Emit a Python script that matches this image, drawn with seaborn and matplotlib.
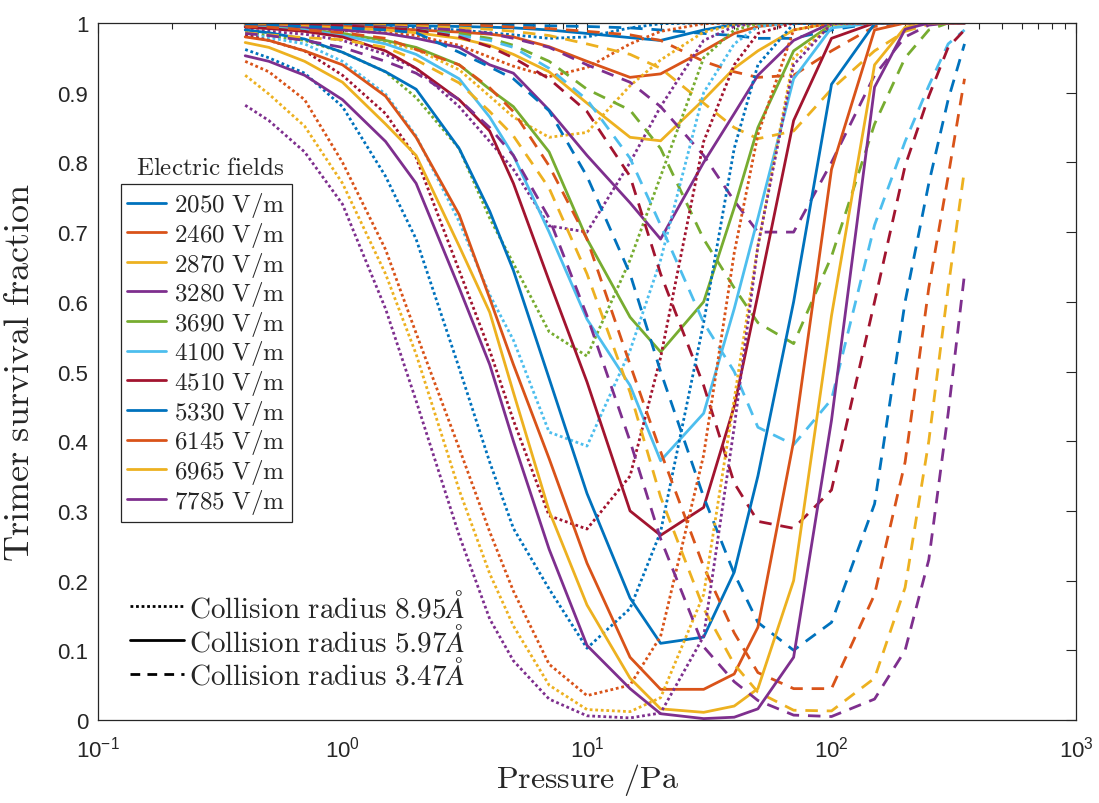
import matplotlib
matplotlib.use("Agg")
import matplotlib.pyplot as plt
import pandas as pd
import seaborn as sns
from matplotlib.lines import Line2D
from matplotlib.ticker import LogLocator, NullFormatter, FixedLocator, FuncFormatter

# Pressure grid of the simulations (Pa)
pressure = [0.4, 0.5, 0.7, 1, 1.5, 2, 3, 4, 5, 7, 10, 15, 20, 30, 40, 50,
            70, 100, 150, 200, 250, 300, 350]

fields = ["2050", "2460", "2870", "3280", "3690", "4100", "4510",
          "5330", "6145", "6965", "7785"]

colors = ["#0072BD", "#D95319", "#EDB120", "#7E2F8E", "#77AC30", "#4DBEEE",
          "#A2142F", "#0072BD", "#D95319", "#EDB120", "#7E2F8E"]

# Trimer survival fraction, collision radius 8.95 Å
survival_r895 = {
    "2050": [0.998, 0.997, 0.997, 0.996, 0.994, 0.993, 0.990, 0.986, 0.983, 0.978, 0.980, 0.993, 0.999, 1, 1, 1, 1, 1, 1, 1, 1, 1, 1],
    "2460": [0.995, 0.994, 0.993, 0.989, 0.986, 0.982, 0.968, 0.951, 0.938, 0.923, 0.936, 0.970, 0.988, 0.999, 1, 1, 1, 1, 1, 1, 1, 1, 1],
    "2870": [0.994, 0.992, 0.990, 0.984, 0.972, 0.962, 0.933, 0.895, 0.865, 0.836, 0.843, 0.910, 0.947, 0.987, 0.997, 1, 1, 1, 1, 1, 1, 1, 1],
    "3280": [0.990, 0.988, 0.984, 0.975, 0.955, 0.935, 0.880, 0.830, 0.790, 0.709, 0.700, 0.800, 0.880, 0.975, 0.995, 1, 1, 1, 1, 1, 1, 1, 1],
    "3690": [0.987, 0.982, 0.975, 0.958, 0.930, 0.893, 0.820, 0.720, 0.655, 0.557, 0.522, 0.660, 0.780, 0.950, 0.990, 0.999, 1, 1, 1, 1, 1, 1, 1],
    "4100": [0.985, 0.979, 0.970, 0.945, 0.898, 0.838, 0.715, 0.610, 0.545, 0.413, 0.393, 0.530, 0.660, 0.900, 0.970, 0.995, 1, 1, 1, 1, 1, 1, 1],
    "4510": [0.983, 0.975, 0.960, 0.925, 0.870, 0.807, 0.645, 0.530, 0.430, 0.293, 0.274, 0.350, 0.520, 0.830, 0.940, 0.985, 1, 1, 1, 1, 1, 1, 1],
    "5330": [0.962, 0.950, 0.928, 0.880, 0.780, 0.690, 0.505, 0.370, 0.275, 0.188, 0.103, 0.160, 0.270, 0.570, 0.820, 0.940, 0.999, 1, 1, 1, 1, 1, 1],
    "6145": [0.945, 0.930, 0.890, 0.800, 0.675, 0.555, 0.390, 0.270, 0.185, 0.080, 0.035, 0.050, 0.120, 0.380, 0.670, 0.840, 0.990, 1, 1, 1, 1, 1, 1],
    "6965": [0.925, 0.898, 0.852, 0.770, 0.640, 0.525, 0.330, 0.210, 0.135, 0.050, 0.015, 0.012, 0.032, 0.180, 0.460, 0.680, 0.950, 0.998, 1, 1, 1, 1, 1],
    "7785": [0.882, 0.860, 0.815, 0.740, 0.590, 0.458, 0.265, 0.145, 0.085, 0.030, 0.006, 0.003, 0.010, 0.120, 0.420, 0.680, 0.940, 0.999, 1, 1, 1, 1, 1],
}

# Trimer survival fraction, collision radius 5.97 Å
survival_r597 = {
    "2050": [0.999, 0.999, 0.998, 0.998, 0.997, 0.996, 0.995, 0.994, 0.993, 0.990, 0.985, 0.979, 0.975, 0.990, 0.998, 1, 1, 1, 1, 1, 1, 1, 1],
    "2460": [0.998, 0.998, 0.997, 0.995, 0.993, 0.990, 0.987, 0.984, 0.980, 0.966, 0.945, 0.922, 0.927, 0.960, 0.985, 0.995, 1, 1, 1, 1, 1, 1, 1],
    "2870": [0.997, 0.996, 0.995, 0.993, 0.990, 0.986, 0.978, 0.968, 0.955, 0.930, 0.885, 0.836, 0.831, 0.890, 0.935, 0.960, 0.990, 1, 1, 1, 1, 1, 1],
    "3280": [0.996, 0.995, 0.993, 0.990, 0.985, 0.978, 0.965, 0.940, 0.928, 0.875, 0.810, 0.742, 0.690, 0.800, 0.870, 0.925, 0.975, 1, 1, 1, 1, 1, 1],
    "3690": [0.995, 0.994, 0.990, 0.985, 0.975, 0.965, 0.940, 0.905, 0.880, 0.815, 0.690, 0.578, 0.528, 0.600, 0.735, 0.850, 0.960, 0.998, 1, 1, 1, 1, 1],
    "4100": [0.995, 0.993, 0.990, 0.982, 0.970, 0.955, 0.920, 0.865, 0.810, 0.700, 0.575, 0.480, 0.372, 0.440, 0.590, 0.720, 0.920, 0.993, 1, 1, 1, 1, 1],
    "4510": [0.994, 0.992, 0.988, 0.980, 0.960, 0.935, 0.890, 0.845, 0.770, 0.630, 0.485, 0.300, 0.265, 0.305, 0.450, 0.610, 0.860, 0.978, 1, 1, 1, 1, 1],
    "5330": [0.990, 0.986, 0.977, 0.958, 0.930, 0.905, 0.820, 0.730, 0.645, 0.490, 0.325, 0.175, 0.110, 0.119, 0.212, 0.350, 0.600, 0.912, 0.999, 1, 1, 1, 1],
    "6145": [0.980, 0.975, 0.960, 0.940, 0.895, 0.836, 0.725, 0.605, 0.510, 0.375, 0.225, 0.090, 0.044, 0.044, 0.066, 0.133, 0.400, 0.790, 0.990, 1, 1, 1, 1],
    "6965": [0.972, 0.965, 0.945, 0.915, 0.855, 0.810, 0.680, 0.585, 0.470, 0.300, 0.165, 0.060, 0.016, 0.011, 0.020, 0.045, 0.200, 0.580, 0.940, 0.994, 1, 1, 1],
    "7785": [0.953, 0.945, 0.925, 0.890, 0.830, 0.770, 0.620, 0.510, 0.400, 0.245, 0.107, 0.045, 0.009, 0.002, 0.004, 0.016, 0.090, 0.430, 0.908, 0.991, 1, 1, 1],
}

# Trimer survival fraction, collision radius 3.47 Å
survival_r347 = {
    "2050": [1, 1, 1, 0.999, 0.999, 0.999, 0.998, 0.998, 0.997, 0.996, 0.995, 0.993, 0.990, 0.985, 0.982, 0.978, 0.978, 0.990, 1, 1, 1, 1, 1],
    "2460": [0.999, 0.999, 0.999, 0.999, 0.998, 0.998, 0.998, 0.996, 0.994, 0.992, 0.988, 0.983, 0.975, 0.945, 0.930, 0.922, 0.925, 0.960, 0.995, 1, 1, 1, 1],
    "2870": [0.998, 0.998, 0.998, 0.998, 0.997, 0.995, 0.993, 0.991, 0.988, 0.982, 0.970, 0.955, 0.935, 0.885, 0.850, 0.834, 0.845, 0.905, 0.960, 0.988, 0.998, 1, 1],
    "3280": [0.998, 0.998, 0.998, 0.997, 0.995, 0.993, 0.990, 0.985, 0.978, 0.965, 0.940, 0.915, 0.880, 0.810, 0.745, 0.700, 0.700, 0.800, 0.925, 0.980, 0.997, 1, 1],
    "3690": [0.998, 0.997, 0.996, 0.995, 0.994, 0.990, 0.985, 0.978, 0.968, 0.945, 0.905, 0.875, 0.820, 0.690, 0.620, 0.570, 0.540, 0.665, 0.855, 0.950, 0.990, 1, 1],
    "4100": [0.998, 0.997, 0.996, 0.995, 0.993, 0.990, 0.982, 0.975, 0.965, 0.935, 0.890, 0.806, 0.710, 0.570, 0.500, 0.420, 0.395, 0.460, 0.710, 0.830, 0.910, 0.970, 0.990],
    "4510": [0.998, 0.998, 0.998, 0.996, 0.993, 0.990, 0.980, 0.966, 0.950, 0.920, 0.873, 0.780, 0.640, 0.480, 0.340, 0.285, 0.275, 0.330, 0.600, 0.795, 0.895, 0.965, 0.990],
    "5330": [0.998, 0.997, 0.995, 0.993, 0.990, 0.986, 0.958, 0.937, 0.920, 0.874, 0.780, 0.640, 0.500, 0.320, 0.210, 0.140, 0.100, 0.140, 0.310, 0.600, 0.770, 0.890, 0.970],
    "6145": [0.995, 0.994, 0.990, 0.986, 0.978, 0.962, 0.940, 0.907, 0.873, 0.795, 0.690, 0.510, 0.385, 0.220, 0.125, 0.068, 0.045, 0.045, 0.180, 0.370, 0.620, 0.780, 0.920],
    "6965": [0.986, 0.983, 0.979, 0.976, 0.965, 0.947, 0.914, 0.873, 0.838, 0.763, 0.640, 0.470, 0.320, 0.160, 0.080, 0.040, 0.014, 0.013, 0.060, 0.190, 0.400, 0.620, 0.790],
    "7785": [0.985, 0.982, 0.975, 0.965, 0.945, 0.928, 0.890, 0.850, 0.810, 0.720, 0.580, 0.400, 0.260, 0.105, 0.055, 0.028, 0.007, 0.005, 0.030, 0.100, 0.230, 0.440, 0.640],
}

radius_tables = [("8.95", survival_r895), ("5.97", survival_r597), ("3.47", survival_r347)]

rows = []
for radius, table in radius_tables:
    for field in fields:
        for p, v in zip(pressure, table[field]):
            rows.append({"pressure": p, "survival": v, "field": field, "radius": radius})
df = pd.DataFrame(rows)

sns.set_style("white")
plt.rcParams["font.family"] = ["Liberation Sans", "DejaVu Sans"]
plt.rcParams["mathtext.fontset"] = "custom"
plt.rcParams["mathtext.rm"] = "Liberation Sans"

axis_color = "#262626"
fig = plt.figure(figsize=(10.99, 8.04), dpi=100)
ax = fig.add_axes([98 / 1099, 1 - 721 / 804, 978 / 1099, 697 / 804])

LW = 2.0
line_styles = {"8.95": (1, 1.0), "5.97": "", "3.47": (4.5, 3.2)}
sns.lineplot(data=df, x="pressure", y="survival", hue="field", style="radius",
             hue_order=fields, style_order=["8.95", "5.97", "3.47"],
             palette=dict(zip(fields, colors)), dashes=line_styles,
             estimator=None, sort=False, linewidth=LW, legend=False, ax=ax)

ax.set_xscale("log")
ax.set_xlim(0.1, 1000)
ax.set_ylim(0, 1)
ax.xaxis.set_major_locator(LogLocator(base=10, numticks=10))
ax.xaxis.set_minor_locator(LogLocator(base=10, subs=range(2, 10), numticks=20))
ax.xaxis.set_minor_formatter(NullFormatter())
ax.yaxis.set_major_locator(FixedLocator([i / 10 for i in range(11)]))
ax.yaxis.set_major_formatter(FuncFormatter(lambda v, _: f"{v:g}"))
ax.tick_params(which="both", direction="in", top=True, right=True,
               color=axis_color, labelcolor=axis_color, width=0.8)
ax.tick_params(which="major", length=7, labelsize=16)
ax.tick_params(axis="x", which="major", pad=11)
ax.tick_params(axis="y", which="major", pad=7)
ax.tick_params(which="minor", length=4)
for s in ax.spines.values():
    s.set_color(axis_color)
    s.set_linewidth(0.9)

ax.set_xlabel(r"$\mathrm{Pressure\ /Pa}$", math_fontfamily="cm", fontsize=23,
              color=axis_color)
ax.set_ylabel(r"$\mathrm{Trimer\ survival\ fraction}$", math_fontfamily="cm",
              fontsize=26, color=axis_color)
ax.xaxis.set_label_coords(0.5, -0.059)
ax.yaxis.set_label_coords(-0.062, 0.5)

# Legend of electric fields
field_handles = [Line2D([], [], color=c, lw=LW) for c in colors]
field_labels = [rf"$\mathrm{{{f}\ V/m}}$" for f in fields]
leg1 = ax.legend(field_handles, field_labels, loc="upper left",
                 bbox_to_anchor=(0.0232, 0.769), frameon=True, fancybox=False,
                 edgecolor=axis_color, framealpha=1, fontsize=18,
                 handlelength=1.55, handletextpad=0.35, labelspacing=0.025,
                 borderpad=0.25, borderaxespad=0)
leg1.get_frame().set_linewidth(0.9)
for t in leg1.get_texts():
    t.set_math_fontfamily("cm")
    t.set_color(axis_color)
ax.add_artist(leg1)
ax.text(0.1145, 0.793, r"$\mathrm{Electric\ fields}$", math_fontfamily="cm",
        fontsize=18, color=axis_color, ha="center", va="center",
        transform=ax.transAxes)

# Legend of collision radii
radius_handles = [Line2D([], [], color="black", lw=LW, dashes=(1, 1.0)),
                  Line2D([], [], color="black", lw=LW),
                  Line2D([], [], color="black", lw=LW, dashes=(3.5, 2.6))]
radius_labels = [rf"$\mathrm{{Collision\ radius\ {r}}}Å$" for r in ["8.95", "5.97", "3.47"]]
leg2 = ax.legend(radius_handles, radius_labels, loc="upper left",
                 bbox_to_anchor=(0.0327, 0.186), frameon=False, fontsize=21,
                 handlelength=1.85, handletextpad=0.17, labelspacing=0.06,
                 borderpad=0, borderaxespad=0)
for t in leg2.get_texts():
    t.set_math_fontfamily("cm")
    t.set_color(axis_color)

fig.savefig("out.png", dpi=100, facecolor="white")
